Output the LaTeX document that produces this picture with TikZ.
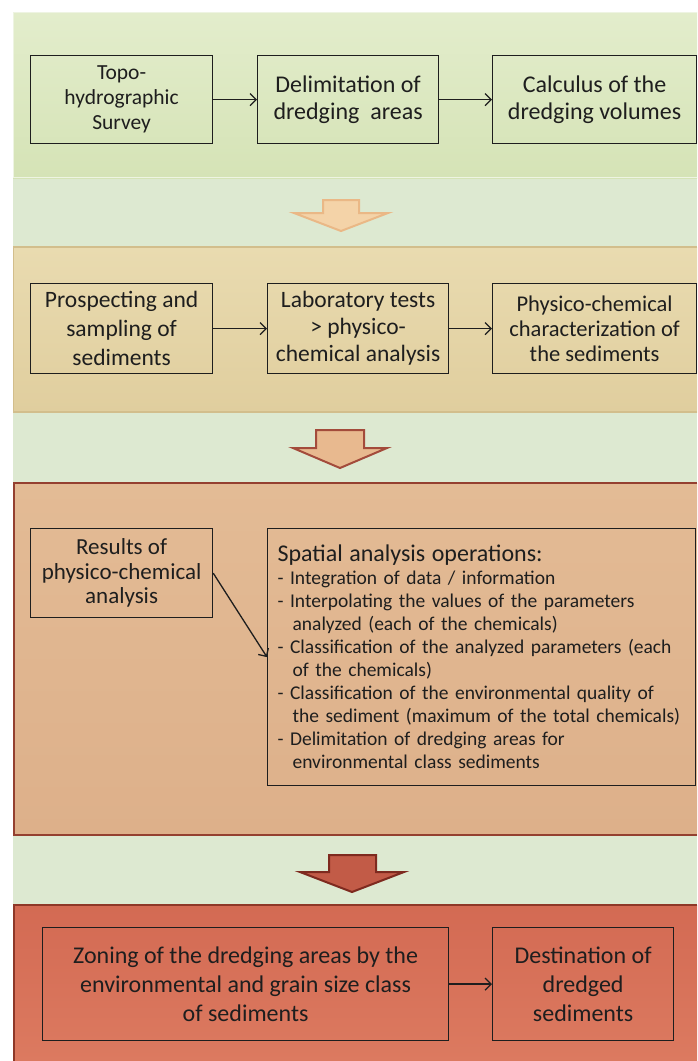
\documentclass[tikz,border=0pt]{standalone}
\usepackage{fontspec}
\setmainfont{Carlito}
\usetikzlibrary{arrows.meta}
\definecolor{bggreen}{HTML}{DDE9D1}
\definecolor{bandAtop}{HTML}{E3EDCC}
\definecolor{bandAbot}{HTML}{D5E3B6}
\definecolor{bandBtop}{HTML}{E9DBB0}
\definecolor{bandBbot}{HTML}{E0CE9E}
\definecolor{bandCtop}{HTML}{E3BB95}
\definecolor{bandCbot}{HTML}{DDB08A}
\definecolor{bandDtop}{HTML}{D36A53}
\definecolor{bandDbot}{HTML}{DC7A60}
\definecolor{bandCline}{HTML}{944030}
\definecolor{bandDline}{HTML}{8E3828}
\definecolor{bandBline}{HTML}{D2BE8C}
\definecolor{arAfill}{HTML}{F4D3A8}
\definecolor{arAline}{HTML}{EAB886}
\definecolor{arBfill}{HTML}{E8B98F}
\definecolor{arBline}{HTML}{A34B3B}
\definecolor{arCfill}{HTML}{C25B47}
\definecolor{arCline}{HTML}{7E2A1F}
\definecolor{ink}{HTML}{1E1E1E}
\begin{document}
\begin{tikzpicture}[x=1pt,y=-1pt,
  box/.style={draw=ink, line width=1.2pt, anchor=north west, align=center,
    inner sep=3pt, text=ink, font=\fontsize{23}{25}\selectfont},
  link/.style={-{Straight Barb[length=6pt,width=12pt]}, line width=1.3pt, draw=ink},
  bigarrow/.style={line width=2pt, line join=miter}]
\useasboundingbox (0,0) rectangle (697,1061);
\fill[white] (0,0) rectangle (697,1061);
\fill[bggreen] (13,12) rectangle (697,1061);
% bands
\shade[top color=bandAtop, bottom color=bandAbot] (13,12) rectangle (697,178);
\draw[white!60!bandAbot, line width=1pt] (697,12.5) -- (13.5,12.5) -- (13.5,177.5) -- (697,177.5);
\shade[top color=bandBtop, bottom color=bandBbot] (13,247) rectangle (697,412);
\draw[bandBline, line width=1.5pt] (697,247) -- (13.5,247) -- (13.5,412) -- (697,412);
\shade[top color=bandCtop, bottom color=bandCbot] (13,483) rectangle (697,835);
\draw[bandCline, line width=2pt] (697,483) -- (14,483) -- (14,835) -- (697,835);
\shade[top color=bandDtop, bottom color=bandDbot] (13,905) rectangle (697,1061);
\draw[bandDline, line width=2pt] (697,905) -- (14,905) -- (14,1061);
% big arrows
\filldraw[bigarrow, fill=arAfill, draw=arAline]
  (323,200) -- (359,200) -- (359,213) -- (388,213) -- (341,231) -- (294,213) -- (323,213) -- cycle;
\filldraw[bigarrow, fill=arBfill, draw=arBline]
  (316,430) -- (364,430) -- (364,448) -- (387,448) -- (340,468) -- (293,448) -- (316,448) -- cycle;
\filldraw[bigarrow, fill=arCfill, draw=arCline]
  (329,855) -- (376,855) -- (376,872) -- (404,872) -- (352,892) -- (300,872) -- (329,872) -- cycle;
% band 1
\node[box, minimum width=182pt, minimum height=88pt, font=\fontsize{21.5}{25}\selectfont] (b1) at (30,55) {Topo-\\hydrographic\\Survey};
\node[box, minimum width=181pt, minimum height=88pt, font=\fontsize{24}{27}\selectfont] (b2) at (257,55) {Delimitation of\\dredging\ \ areas};
\node[box, minimum width=204pt, minimum height=88pt, font=\fontsize{24}{27}\selectfont] (b3) at (492,55) {Calculus of the\\dredging volumes};
\draw[link] (b1.east) -- (b2.west);
\draw[link] (b2.east) -- (b3.west);
% band 2
\node[box, minimum width=182pt, minimum height=90pt, font=\fontsize{23.5}{29}\selectfont] (b4) at (30,283) {Prospecting and\\sampling of\\sediments};
\node[box, minimum width=181pt, minimum height=90pt, font=\fontsize{23.5}{27}\selectfont] (b5) at (267,283) {Laboratory tests\\> physico-\\chemical analysis};
\node[box, minimum width=204pt, minimum height=90pt, font=\fontsize{22.5}{25}\selectfont] (b6) at (492,283) {Physico-chemical\\characterization of\\the sediments};
\draw[link] (b4.east) -- (b5.west);
\draw[link] (b5.east) -- (b6.west);
% band 3
\node[box, minimum width=182pt, minimum height=89pt, font=\fontsize{23}{24.5}\selectfont] (b7) at (30,528) {Results of\\physico-chemical\\analysis};
\node[box, minimum width=428pt, minimum height=257pt, align=left, text width=408pt, inner sep=10pt,
  font=\fontsize{19.5}{23}\selectfont] (b8) at (267,528)
  {\mbox{\fontsize{24}{24}\selectfont Spatial analysis operations:}\\
   \mbox{- Integration of data / information}\\
   \mbox{- Interpolating the values of the parameters}\\
   \mbox{\hspace*{15pt}analyzed (each of the chemicals)}\\
   \mbox{- Classification of the analyzed parameters (each}\\
   \mbox{\hspace*{15pt}of the chemicals)}\\
   \mbox{- Classification of the environmental quality of}\\
   \mbox{\hspace*{15pt}the sediment (maximum of the total chemicals)}\\
   \mbox{- Delimitation of dredging areas for}\\
   \mbox{\hspace*{15pt}environmental class sediments}};
\draw[link] (b7.east) -- (b8.west);
% band 4
\node[box, minimum width=406pt, minimum height=113pt, font=\fontsize{24}{29}\selectfont] (b9) at (42,927) {Zoning of the dredging areas by the\\environmental and grain size class\\of sediments};
\node[box, minimum width=181pt, minimum height=113pt, font=\fontsize{24}{29}\selectfont] (b10) at (492,927) {Destination of\\dredged\\sediments};
\draw[link] (b9.east) -- (b10.west);
\end{tikzpicture}
\end{document}
